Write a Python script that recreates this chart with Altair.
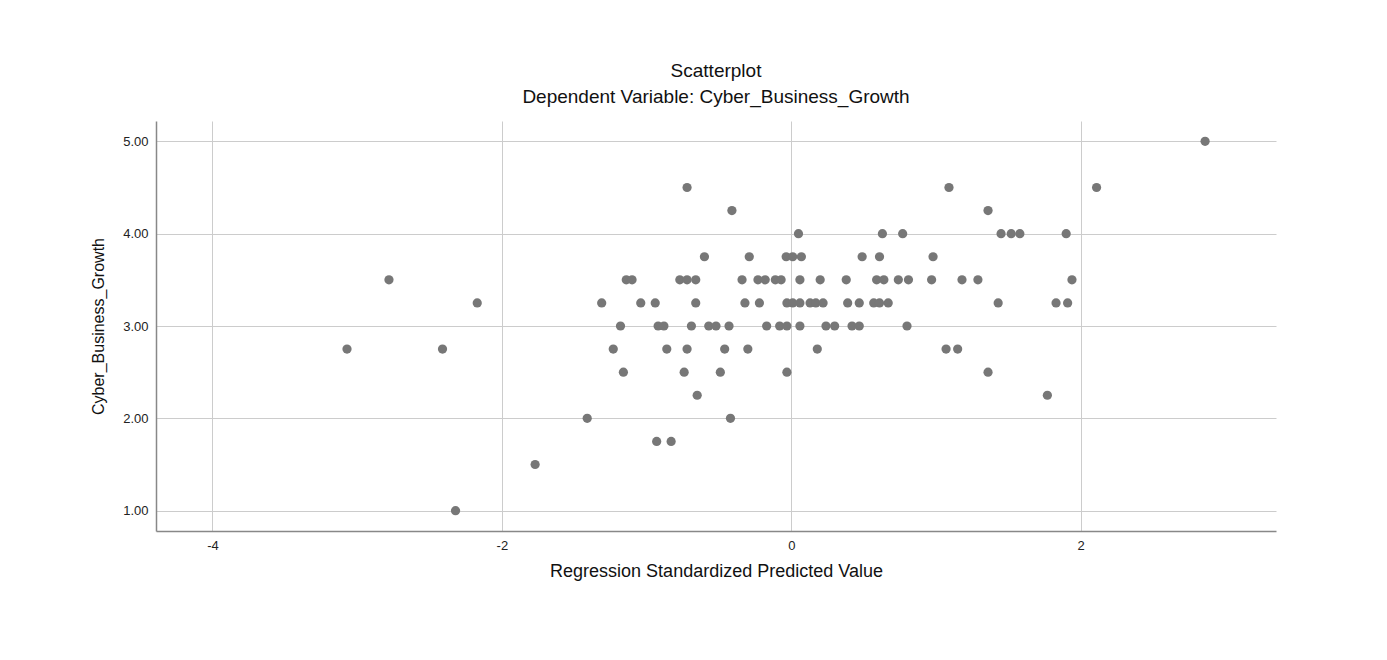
import altair as alt
import pandas as pd

# Regression standardized predicted values (x) and Cyber_Business_Growth (y)
pred_x = [
    -3.07, -2.78, -2.41, -2.17, -2.32, -1.77, -1.41, -1.31,
    -0.72, -0.41, 0.05, 1.09, 1.36, 2.11, 2.86, 0.63, 0.77, 1.45, 1.52, 1.58, 1.90,
    -0.60, -0.29, -0.035, 0.01, 0.07, 0.49, 0.61, 0.98,
    -1.14, -1.10, -0.77, -0.72, -0.66, -0.34, -0.23, -0.18, -0.11, -0.07, 0.06,
    0.20, 0.38, 0.59, 0.64, 0.74, 0.81, 0.97, 1.18, 1.29, 1.94,
    -1.04, -0.94, -0.66, -0.32, -0.22, -0.03, 0.01, 0.06, 0.13, 0.17, 0.22,
    0.39, 0.47, 0.57, 0.61, 0.67, 1.43, 1.83, 1.91,
    -1.18, -0.92, -0.88, -0.69, -0.57, -0.52, -0.43, -0.17, -0.08, -0.03, 0.06,
    0.24, 0.30, 0.42, 0.47, 0.80,
    1.07, 1.15, 0.18, -1.23, -0.86, -0.72, -0.46, -0.30,
    1.36, -0.03, -1.16, -0.74, -0.49,
    -0.65, 1.77,
    -0.42,
    -0.93, -0.83,
]
growth_y = [
    2.75, 3.50, 2.75, 3.25, 1.00, 1.50, 2.00, 3.25,
    4.50, 4.25, 4.00, 4.50, 4.25, 4.50, 5.00, 4.00, 4.00, 4.00, 4.00, 4.00, 4.00,
    3.75, 3.75, 3.75, 3.75, 3.75, 3.75, 3.75, 3.75,
    3.50, 3.50, 3.50, 3.50, 3.50, 3.50, 3.50, 3.50, 3.50, 3.50, 3.50,
    3.50, 3.50, 3.50, 3.50, 3.50, 3.50, 3.50, 3.50, 3.50, 3.50,
    3.25, 3.25, 3.25, 3.25, 3.25, 3.25, 3.25, 3.25, 3.25, 3.25, 3.25,
    3.25, 3.25, 3.25, 3.25, 3.25, 3.25, 3.25, 3.25,
    3.00, 3.00, 3.00, 3.00, 3.00, 3.00, 3.00, 3.00, 3.00, 3.00, 3.00,
    3.00, 3.00, 3.00, 3.00, 3.00,
    2.75, 2.75, 2.75, 2.75, 2.75, 2.75, 2.75, 2.75,
    2.50, 2.50, 2.50, 2.50, 2.50,
    2.25, 2.25,
    2.00,
    1.75, 1.75,
]

x_ticks = [-4, -2, 0, 2]
y_ticks = [1, 2, 3, 4, 5]

df = pd.DataFrame({"pred": pred_x, "growth": growth_y})

FONT = "Liberation Sans"

chart = (
    alt.Chart(df)
    .mark_point(filled=True, shape="circle", size=85, color="#777777", opacity=1)
    .encode(
        x=alt.X(
            "pred:Q",
            title="Regression Standardized Predicted Value",
            scale=alt.Scale(domain=[-4.39, 3.35], nice=False, zero=False),
            axis=alt.Axis(values=x_ticks, labelExpr="'' + datum.value",
                          titleFontSize=18, titlePadding=10),
        ),
        y=alt.Y(
            "growth:Q",
            title="Cyber_Business_Growth",
            scale=alt.Scale(domain=[0.78, 5.22], nice=False, zero=False),
            axis=alt.Axis(values=y_ticks, format=".2f",
                          titleFontSize=16, titlePadding=16),
        ),
    )
    .properties(
        width=1120,
        height=410,
        background="white",
        title=alt.TitleParams(
            text=["Scatterplot", "Dependent Variable: Cyber_Business_Growth"],
            font=FONT,
            fontSize=19,
            fontWeight="normal",
            color="#111111",
            anchor="middle",
            lineHeight=26,
            offset=14,
        ),
        padding={"left": 90, "top": 62, "right": 40, "bottom": 10},
    )
    .configure_view(stroke=None)
    .configure_axis(
        labelFont=FONT,
        titleFont=FONT,
        labelFontSize=13,
        labelColor="#222222",
        titleColor="#111111",
        titleFontWeight="normal",
        gridColor="#cccccc",
        gridWidth=1,
        domainColor="#888888",
        domainWidth=1.5,
        ticks=False,
        labelPadding=8,
    )
)

chart.save("out.html", embed_options={"renderer": "svg", "actions": False})
